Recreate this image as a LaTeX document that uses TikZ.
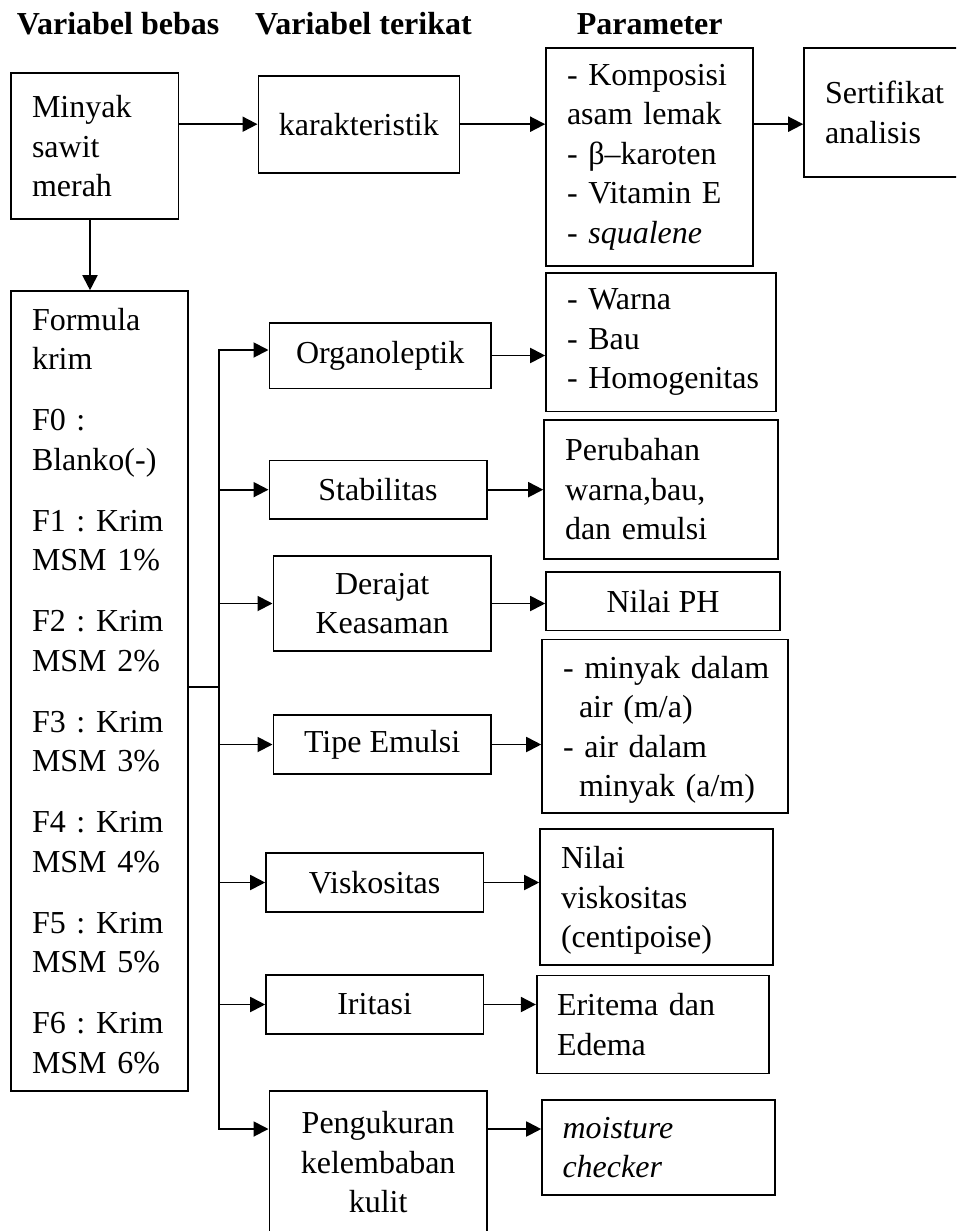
\documentclass[tikz,border=0pt]{standalone}
\usepackage{fontspec}
\setmainfont{Liberation Serif}
\usetikzlibrary{arrows.meta}
\newcommand\diagfs{\fontsize{32pt}{39.5pt}\selectfont\hyphenpenalty=10000\exhyphenpenalty=10000}
\begin{document}
\begin{tikzpicture}[x=1pt,y=-1pt,
  bx/.style={draw, line width=1.6pt, font=\diagfs},
  lbox/.style={bx, align=left, inner xsep=21pt, inner ysep=0pt},
  cbox/.style={bx, align=center, inner sep=0pt},
  hdr/.style={anchor=base west, inner sep=0pt, font=\diagfs\bfseries},
  ln/.style={line width=1.9pt, line cap=rect},
  arr/.style={line width=1.9pt, -{Triangle[length=15pt,width=15pt]}}
]
\useasboundingbox (0,0) rectangle (956,1231);
\clip (0,0) rectangle (956,1231);

% headers
\node[hdr] (hA) at (16.7,34.3) {Variabel bebas};
\node[hdr] (hB) at (255,34.3) {Variabel terikat};
\node[hdr] (hC) at (576.7,34.3) {Parameter};

% top row
\node[lbox, text width=125.3pt, minimum height=145.7pt] (minyak) at (94.65,146.15) {Minyak\\sawit\\merah};
\node[cbox, minimum width=201pt, minimum height=97pt] (karak) at (358.8,124.2) {karakteristik};
\node[lbox, text width=164.7pt, minimum height=217.4pt] (param) at (649.35,157) {-~Komposisi\\asam~lemak\\-~β–karoten\\-~Vitamin~E\\-~\textit{squalene}};
\node[lbox, text width=116pt, minimum height=128.4pt] (sert) at (883,112.5) {Sertifikat\\analisis};

% formula
\node[lbox, text width=134.7pt, minimum height=799.7pt] (formula) at (99.35,690.85) {Formula\\krim\\[21.5pt]F0~:\\Blanko(-)\\[21.5pt]F1~:~Krim\\MSM~1\%\\[21.5pt]F2~:~Krim\\MSM~2\%\\[21.5pt]F3~:~Krim\\MSM~3\%\\[21.5pt]F4~:~Krim\\MSM~4\%\\[21.5pt]F5~:~Krim\\MSM~5\%\\[21.5pt]F6~:~Krim\\MSM~6\%};

% middle column
\node[cbox, minimum width=221.7pt, minimum height=65.6pt] (org) at (380.15,355.5) {Organoleptik};
\node[cbox, minimum width=217.4pt, minimum height=58.7pt] (stab) at (378,489.65) {Stabilitas};
\node[cbox, minimum width=217.7pt, minimum height=95pt] (der) at (382.15,603.5) {Derajat\\Keasaman};
\node[cbox, minimum width=217.7pt, minimum height=59pt] (tipe) at (382.15,744.5) {Tipe Emulsi};
\node[cbox, minimum width=217.3pt, minimum height=59pt] (visk) at (374.65,882.5) {Viskositas};
\node[cbox, minimum width=217.3pt, minimum height=59pt] (irit) at (374.65,1004.5) {Iritasi};
\node[cbox, minimum width=217.7pt, minimum height=143.3pt] (peng) at (378.15,1162.35) {Pengukuran\\kelembaban\\kulit};

% right column
\node[lbox, text width=188pt, minimum height=138.3pt] (warna) at (661,342.15) {-~Warna\\-~Bau\\-~Homogenitas};
\node[lbox, text width=192pt, minimum height=139.1pt] (perub) at (661,489.25) {Perubahan\\warna,bau,\\dan~emulsi};
\node[cbox, minimum width=234pt, minimum height=58.9pt] (ph) at (663,601.15) {Nilai PH};
\node[lbox, text width=204pt, minimum height=173.7pt] (mdalam) at (665,726.15) {\rule{0pt}{30pt}-~minyak~dalam\\\hspace*{16pt}air~(m/a)\\-~air~dalam\\\hspace*{16pt}minyak~(a/m)};
\node[lbox, text width=190.7pt, minimum height=136.3pt] (nvisk) at (656.35,896.85) {\rule{0pt}{29.5pt}Nilai\\viskositas\\(centipoise)};
\node[lbox, inner xsep=20.3pt, text width=191.7pt, minimum height=98pt] (erit) at (652.85,1024.3) {Eritema~dan\\Edema};
\node[lbox, inner xsep=20.5pt, text width=192pt, minimum height=95pt] (moist) at (658.5,1147.5) {\textit{moisture}\\\textit{checker}};

% top connectors
\draw[arr] (minyak.east |- karak.west) -- (karak.west);
\draw[arr] (karak.east) -- (karak.east -| param.west);
\draw[arr] (karak.east -| param.east) -- (karak.east -| sert.west);
\draw[arr] ([xshift=-4.65pt]minyak.south) -- ([xshift=-4.65pt]minyak.south |- formula.north);

% trunk
\coordinate (tTop) at (219,350);
\coordinate (tBot) at (219,1129);
\coordinate (tJoin) at (219,687);
\draw[ln] (tJoin -| formula.east) -- (tJoin);
\draw[arr] (tBot) -- (tTop) -- (tTop -| org.west);
\draw[arr] (tTop |- stab.west) -- (stab.west);
\draw[arr] (tTop |- der.west) -- (der.west);
\draw[arr] (tTop |- tipe.west) -- (tipe.west);
\draw[arr] (tTop |- visk.west) -- (visk.west);
\draw[arr] (tTop |- irit.west) -- (irit.west);
\draw[arr] (tTop) -- (tBot) -- (tBot -| peng.west);

% middle to right
\draw[arr] (org.east) -- (org.east -| warna.west);
\draw[arr] (stab.east) -- (stab.east -| perub.west);
\draw[arr] (der.east) -- (der.east -| ph.west);
\draw[arr] (tipe.east) -- (tipe.east -| mdalam.west);
\draw[arr] (visk.east) -- (visk.east -| nvisk.west);
\draw[arr] (irit.east) -- (irit.east -| erit.west);
\draw[arr] (tBot -| peng.east) -- (tBot -| moist.west);
\end{tikzpicture}
\end{document}
